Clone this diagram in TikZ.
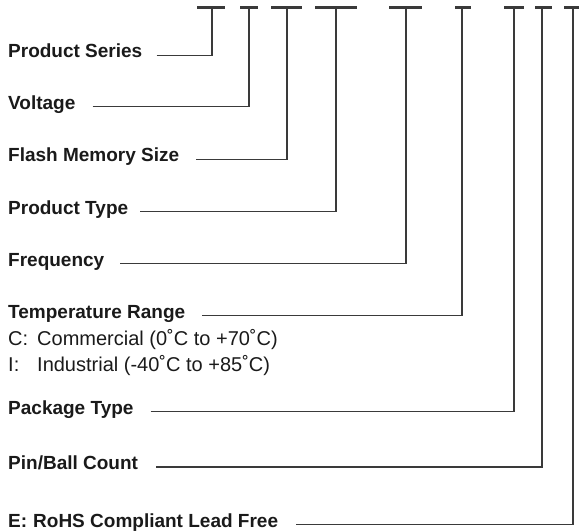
\documentclass[tikz,border=0pt]{standalone}
\usepackage{fontspec}
\setmainfont{Liberation Sans}
\usetikzlibrary{calc}
\definecolor{linegray}{HTML}{3A3A3A}
\definecolor{textgray}{HTML}{1A1A1A}
\tikzset{
% Styles for the part number key: bold field names, plain option lines
field label/.style={anchor=base west,inner sep=0,text=textgray,font=\fontsize{19}{22}\selectfont\bfseries},
option label/.style={anchor=base west,inner sep=0,text=textgray,font=\fontsize{20}{23}\selectfont},
field bar/.style={draw=linegray,line width=2.8pt},
field line/.style={draw=linegray,line width=1.3pt}
}

\begin{document}
\begin{tikzpicture}[x=1pt,y=-1pt]
\useasboundingbox (0,0) rectangle (579,532);
% Top of each leader, under the part number
\coordinate (b1) at (212,7.5);
\coordinate (b2) at (249,7.5);
\coordinate (b3) at (287,7.5);
\coordinate (b4) at (336,7.5);
\coordinate (b5) at (406,7.5);
\coordinate (b6) at (462,7.5);
\coordinate (b7) at (514,7.5);
\coordinate (b8) at (542,7.5);
\coordinate (b9) at (573,7.5);
% The bars
\draw[field bar] ($(b1)+(-15,0)$) -- ($(b1)+(13,0)$);
\draw[field bar] ($(b2)+(-9,0)$) -- ($(b2)+(9,0)$);
\draw[field bar] ($(b3)+(-16,0)$) -- ($(b3)+(15,0)$);
\draw[field bar] ($(b4)+(-21,0)$) -- ($(b4)+(21,0)$);
\draw[field bar] ($(b5)+(-17,0)$) -- ($(b5)+(16,0)$);
\draw[field bar] ($(b6)+(-7,0)$) -- ($(b6)+(9,0)$);
\draw[field bar] ($(b7)+(-10,0)$) -- ($(b7)+(10,0)$);
\draw[field bar] ($(b8)+(-7,0)$) -- ($(b8)+(10,0)$);
\draw[field bar] ($(b9)+(-9,0)$) -- ($(b9)+(8,0)$);
% The labels
\node(series)[field label] at (8,58) {Product Series};
\node(voltage)[field label] at (8,109.3) {Voltage};
\node(flash)[field label] at (8,162) {Flash Memory Size};
\node(type)[field label] at (8,214.3) {Product Type};
\node(freq)[field label] at (8,266) {Frequency};
\node(temp)[field label] at (8,318) {Temperature Range};
\node(com)[option label] at (8,345) {\makebox[29pt][l]{C:}Commercial (0˚C to +70˚C)};
\node(ind)[option label] at (8,371.7) {\makebox[29pt][l]{I:}Industrial (-40˚C to +85˚C)};
\node(pkg)[field label] at (8,414.3) {Package Type};
\node(pins)[field label] at (8,469.6) {Pin/Ball Count};
\node(rohs)[field label] at (8,527) {E:\hspace{6pt}RoHS Compliant Lead Free};
% Leaders
\draw[field line] (series.mid east) ++(14,0) -| (b1);
\draw[field line] (voltage.mid east) ++(17,0) -| (b2);
\draw[field line] (flash.mid east) ++(17,0) -| (b3);
\draw[field line] (type.mid east) ++(12,0) -| (b4);
\draw[field line] (freq.mid east) ++(16,0) -| (b5);
\draw[field line] (temp.mid east) ++(17,0) -| (b6);
\draw[field line] (pkg.mid east) ++(17,0) -| (b7);
\draw[field line] (pins.mid east) ++(18,0) -| (b8);
\draw[field line] (rohs.mid east) ++(18,0) -| (b9);
\end{tikzpicture}
\end{document}
